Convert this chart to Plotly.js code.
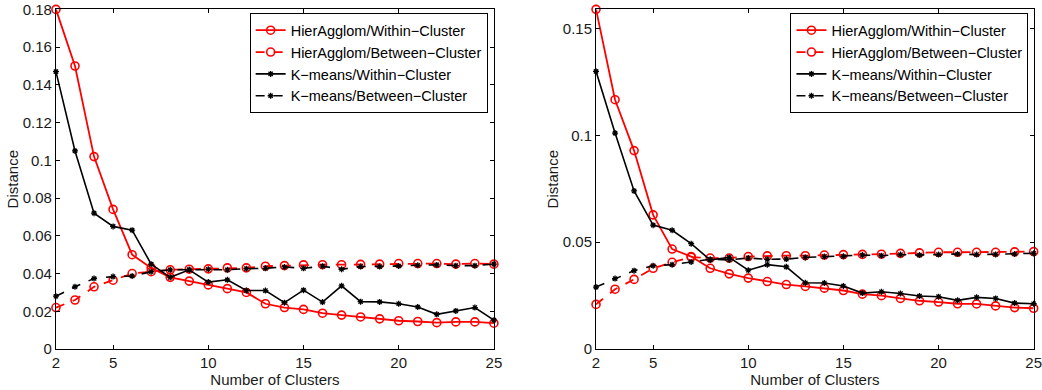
<!DOCTYPE html>
<html>
<head>
<meta charset="utf-8">
<script src="https://cdn.plot.ly/plotly-3.0.1.min.js"></script>
<style>html,body{margin:0;padding:0;background:#fff;}#chart{width:1042px;height:390px;}</style>
</head>
<body>
<div id="chart"></div>
<script>
const clusters = [2,3,4,5,6,7,8,9,10,11,12,13,14,15,16,17,18,19,20,21,22,23,24,25];
const seriesNames = ["HierAgglom/Within\u2212Cluster","HierAgglom/Between\u2212Cluster","K\u2212means/Within\u2212Cluster","K\u2212means/Between\u2212Cluster"];
const xTicks = [2,5,10,15,20,25];

// Left panel
const leftHierWithin  = [0.180,0.150,0.102,0.074,0.050,0.043,0.038,0.036,0.034,0.032,0.030,0.024,0.022,0.021,0.019,0.018,0.017,0.016,0.015,0.0146,0.014,0.0144,0.0144,0.0137];
const leftHierBetween = [0.022,0.026,0.033,0.0365,0.040,0.041,0.042,0.0423,0.0425,0.043,0.043,0.0439,0.0442,0.0446,0.0447,0.0447,0.0449,0.045,0.0453,0.0453,0.0453,0.045,0.0453,0.045];
const leftKmWithin    = [0.147,0.105,0.072,0.065,0.063,0.045,0.038,0.042,0.0355,0.0367,0.031,0.031,0.0246,0.0312,0.0249,0.0335,0.0251,0.025,0.024,0.0223,0.0184,0.0202,0.022,0.0153];
const leftKmBetween   = [0.028,0.033,0.0374,0.0384,0.0387,0.041,0.042,0.042,0.0423,0.042,0.0426,0.0428,0.0435,0.0428,0.0439,0.0423,0.0437,0.0437,0.044,0.0444,0.0446,0.0442,0.0442,0.045];
const leftYTicks = [0,0.02,0.04,0.06,0.08,0.1,0.12,0.14,0.16,0.18];

// Right panel
const rightHierWithin  = [0.159,0.1167,0.0929,0.0628,0.0468,0.0433,0.0378,0.0352,0.0332,0.0316,0.0302,0.0293,0.0285,0.0274,0.0257,0.025,0.0237,0.0226,0.022,0.0212,0.0211,0.0202,0.0194,0.0191];
const rightHierBetween = [0.0209,0.028,0.0326,0.0378,0.0406,0.043,0.0426,0.0426,0.0433,0.0436,0.0437,0.0437,0.044,0.0442,0.0443,0.0444,0.0448,0.045,0.0453,0.0453,0.0453,0.0453,0.0455,0.0456];
const rightKmWithin    = [0.130,0.1011,0.074,0.058,0.0556,0.0493,0.0417,0.0429,0.0369,0.0395,0.0385,0.031,0.0309,0.0295,0.0262,0.0268,0.026,0.0248,0.0245,0.0228,0.0242,0.0237,0.0215,0.0212];
const rightKmBetween   = [0.029,0.033,0.0367,0.039,0.0395,0.0408,0.042,0.0417,0.0426,0.042,0.0421,0.0429,0.0433,0.0434,0.044,0.0437,0.0442,0.044,0.0442,0.0445,0.0442,0.0443,0.0445,0.0448];
const rightYTicks = [0,0.05,0.1,0.15];

const RED = '#ff0000', BLACK = '#000000';
function mk(y, i, xa, ya, leg) {
  const isHier = i < 2, dashed = (i % 2) === 1;
  return {
    x: clusters, y: y, xaxis: xa, yaxis: ya, legend: leg,
    name: seriesNames[i], type: 'scatter', mode: 'lines+markers',
    line: {color: isHier ? RED : BLACK, width: isHier ? 1.8 : 1.6, dash: dashed ? 'dash' : 'solid'},
    marker: isHier ? {symbol: 'circle-open', size: 8, color: RED, line: {width: 1.6, color: RED}}
                   : {symbol: 'asterisk-open', size: 5, color: BLACK, line: {width: 1.3, color: BLACK}},
    cliponaxis: false
  };
}
const traces = [
  mk(leftHierWithin,0,'x','y','legend'), mk(leftHierBetween,1,'x','y','legend'),
  mk(leftKmWithin,2,'x','y','legend'), mk(leftKmBetween,3,'x','y','legend'),
  mk(rightHierWithin,0,'x2','y2','legend2'), mk(rightHierBetween,1,'x2','y2','legend2'),
  mk(rightKmWithin,2,'x2','y2','legend2'), mk(rightKmBetween,3,'x2','y2','legend2')
];
const FONT = {family: 'Liberation Sans, Arial, sans-serif', size: 15, color: '#1a1a1a'};
function xax(dom, anchor) {
  return {domain: dom, anchor: anchor, range: [2,25], tickmode: 'array', tickvals: xTicks,
    ticks: 'inside', ticklen: 4, tickcolor: '#000', showline: true, linecolor: '#000', linewidth: 1,
    mirror: 'ticks', showgrid: false, zeroline: false, tickfont: FONT, ticklabeloverflow: 'allow',
    title: {text: 'Number of Clusters', font: FONT, standoff: 0}};
}
function yax(dom, anchor, rng, tv) {
  return {domain: dom, anchor: anchor, range: rng, tickmode: 'array', tickvals: tv,
    ticks: 'inside', ticklen: 4, tickcolor: '#000', showline: true, linecolor: '#000', linewidth: 1,
    mirror: 'ticks', showgrid: false, zeroline: false, tickfont: FONT, ticklabeloverflow: 'allow',
    title: {text: 'Distance', font: FONT, standoff: 0}};
}
const yDom = [0.105, 0.976];
const legStyle = (x) => ({x: x, y: 0.966, xanchor: 'right', yanchor: 'top', bgcolor: '#fff',
  bordercolor: '#000', borderwidth: 1, font: {family: FONT.family, size: 14.5, color: '#000'},
  tracegroupgap: 0, itemwidth: 30});
const layout = {
  width: 1042, height: 390, margin: {l: 0, r: 0, t: 0, b: 0},
  paper_bgcolor: '#fff', plot_bgcolor: '#fff', font: FONT, showlegend: true,
  xaxis: xax([0.0537, 0.474], 'y'), yaxis: yax(yDom, 'x', [0, 0.18002], leftYTicks),
  xaxis2: xax([0.572, 0.992], 'y2'), yaxis2: yax(yDom, 'x2', [0, 0.159], rightYTicks),
  legend: legStyle(0.468), legend2: legStyle(0.987)
};
Plotly.newPlot('chart', traces, layout, {staticPlot: true});
</script>
</body>
</html>
